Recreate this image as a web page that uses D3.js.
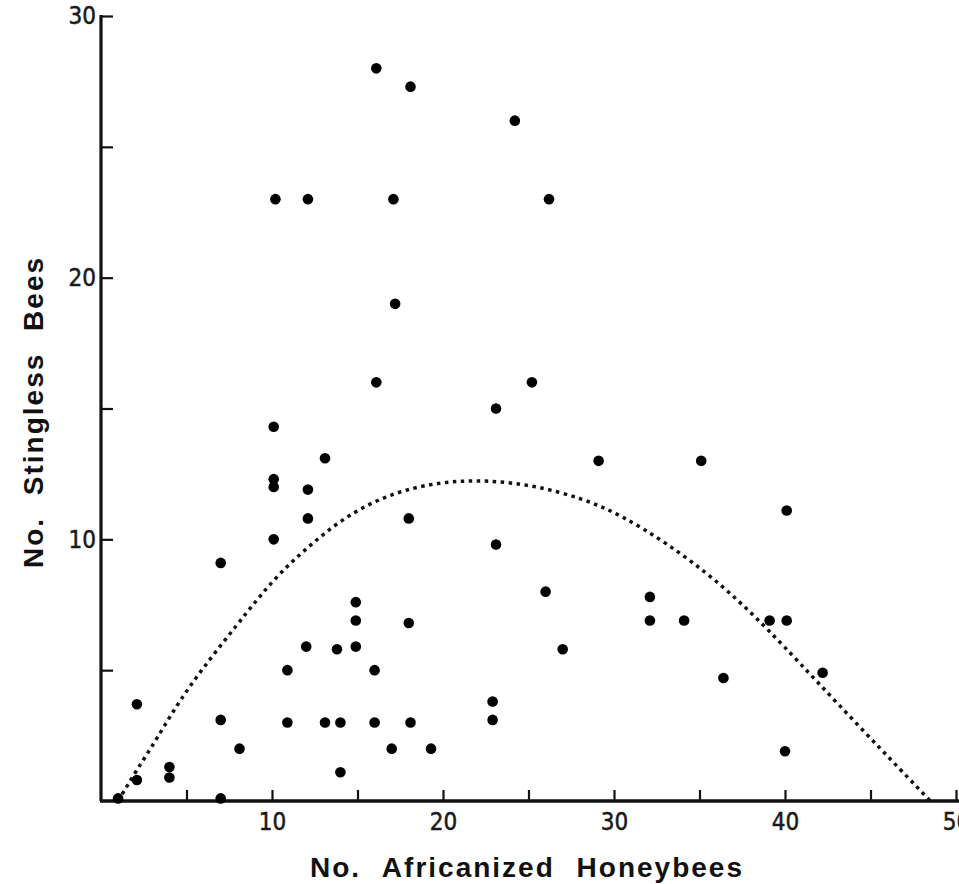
<!DOCTYPE html>
<html>
<head>
<meta charset="utf-8">
<script src="https://cdn.jsdelivr.net/npm/d3@7"></script>
<style>
  body { margin: 0; background: #fff; }
  .tick text { font-family: 'Liberation Sans Narrow', 'DejaVu Sans Condensed', 'Arial Narrow', sans-serif; font-size: 24px; fill: #1a1a1a; stroke: #1a1a1a; stroke-width: 0.5px; }
  .title { font-family: 'Liberation Sans', Arial, sans-serif; font-weight: bold; fill: #111; }
</style>
</head>
<body>
<div id="chart"></div>
<script>
// number of africanized honeybees (x) and stingless bees (y) per observation
var honeybees = [16.1, 18.1, 24.2, 10.2, 12.1, 17.1, 26.2, 17.2, 16.1, 25.2,
  23.1, 10.1, 13.1, 29.1, 35.1, 10.1, 10.1, 12.1, 18.0, 12.1,
  40.1, 10.1, 23.1, 7.0, 26.0, 32.1, 14.9, 14.9, 18.0, 32.1,
  34.1, 39.1, 40.1, 12.0, 13.8, 14.9, 27.0, 10.9, 16.0, 42.2,
  36.4, 2.1, 22.9, 22.9, 7.0, 10.9, 13.1, 14.0, 16.0, 18.1,
  8.1, 17.0, 19.3, 40.0, 14.0, 4.0, 4.0, 2.1, 1.0, 7.0];
var stingless = [28.0, 27.3, 26.0, 23.0, 23.0, 23.0, 23.0, 19.0, 16.0, 16.0,
  15.0, 14.3, 13.1, 13.0, 13.0, 12.3, 12.0, 11.9, 10.8, 10.8,
  11.1, 10.0, 9.8, 9.1, 8.0, 7.8, 7.6, 6.9, 6.8, 6.9,
  6.9, 6.9, 6.9, 5.9, 5.8, 5.9, 5.8, 5.0, 5.0, 4.9,
  4.7, 3.7, 3.8, 3.1, 3.1, 3.0, 3.0, 3.0, 3.0, 3.0,
  2.0, 2.0, 2.0, 1.9, 1.1, 1.3, 0.9, 0.8, 0.1, 0.1];

// fitted curve
var curve_x = [1.0, 2.1, 3.2, 5.0, 8.1, 10.1, 12.0, 14.2, 16.9, 19.8,
  22.5, 25.3, 28.2, 30.4, 33.1, 36.0, 38.9, 42.8, 48.5];
var curve_y = [0, 1.2, 2.3, 4.3, 6.85, 8.5, 9.65, 10.85, 11.76, 12.2,
  12.27, 12.07, 11.56, 10.93, 9.85, 8.44, 6.66, 3.9, 0];

var x_ticks = [5, 10, 15, 20, 25, 30, 35, 40, 45, 50];
var x_labels = [10, 20, 30, 40, 50];
var y_ticks = [5, 10, 15, 20, 25, 30];
var y_labels = [10, 20, 30];

var chart_width = 959;
var chart_height = 884;

var svg = d3
  .select('#chart')
  .append('svg')
  .attr('width', chart_width)
  .attr('height', chart_height);

svg.append('rect').attr('width', chart_width).attr('height', chart_height).attr('fill', '#fff');

// Scales
var x_scale = d3.scaleLinear().domain([0, 50]).range([101, 956]);
var y_scale = d3.scaleLinear().domain([0, 30]).range([801, 16]);

// Axes (ticks point inward)
var x_axis = d3
  .axisBottom(x_scale)
  .tickValues(x_ticks)
  .tickSize(-11)
  .tickPadding(12)
  .tickFormat(function(d) {
    return x_labels.indexOf(d) >= 0 ? d : '';
  });
var y_axis = d3
  .axisLeft(y_scale)
  .tickValues(y_ticks)
  .tickSize(-12)
  .tickPadding(5)
  .tickFormat(function(d) {
    return y_labels.indexOf(d) >= 0 ? d : '';
  });

var gx = svg.append('g').attr('transform', 'translate(0,' + y_scale(0) + ')').call(x_axis);
var gy = svg.append('g').attr('transform', 'translate(' + x_scale(0) + ',0)').call(y_axis);
gx.select('.domain').remove();
gy.select('.domain').remove();
svg.selectAll('.tick line').attr('stroke', '#111').attr('stroke-width', 2.2);

// axis lines, x runs off the right edge
svg
  .append('line')
  .attr('x1', x_scale(0) - 1)
  .attr('x2', chart_width)
  .attr('y1', y_scale(0))
  .attr('y2', y_scale(0))
  .attr('stroke', '#111')
  .attr('stroke-width', 3.5);
svg
  .append('line')
  .attr('x1', x_scale(0))
  .attr('x2', x_scale(0))
  .attr('y1', y_scale(30) - 1)
  .attr('y2', y_scale(0))
  .attr('stroke', '#111')
  .attr('stroke-width', 3.2);

// dotted curve
var line = d3
  .line()
  .x(function(d) { return x_scale(d[0]); })
  .y(function(d) { return y_scale(d[1]); })
  .curve(d3.curveBasis);
svg
  .append('path')
  .datum(d3.zip(curve_x, curve_y))
  .attr('d', line)
  .attr('fill', 'none')
  .attr('stroke', '#111')
  .attr('stroke-width', 3.5)
  .attr('stroke-dasharray', '3.5,4.5');

// points
svg
  .selectAll('circle.pt')
  .data(d3.zip(honeybees, stingless))
  .enter()
  .append('circle')
  .attr('class', 'pt')
  .attr('cx', function(d) { return x_scale(d[0]); })
  .attr('cy', function(d) { return y_scale(d[1]); })
  .attr('r', 5.3)
  .attr('fill', '#000');

// titles
svg
  .append('text')
  .attr('class', 'title')
  .attr('x', 527)
  .attr('y', 877)
  .attr('text-anchor', 'middle')
  .style('font-size', '28px')
  .style('letter-spacing', '2px')
  .style('word-spacing', '12px')
  .text('No. Africanized Honeybees');
svg
  .append('text')
  .attr('class', 'title')
  .attr('transform', 'translate(43,412) rotate(-90)')
  .attr('text-anchor', 'middle')
  .style('font-size', '28px')
  .style('letter-spacing', '2px')
  .style('word-spacing', '12px')
  .text('No. Stingless Bees');
</script>
</body>
</html>
